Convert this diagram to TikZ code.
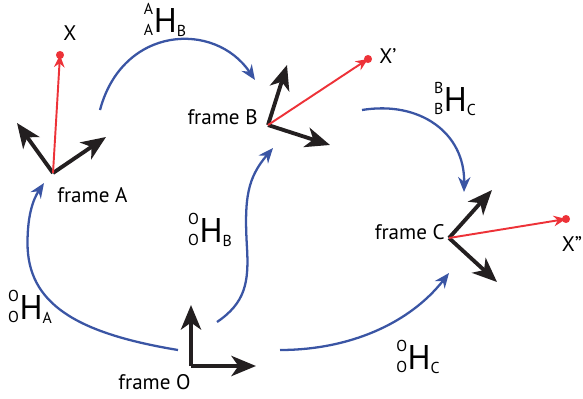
\documentclass[tikz,border=0pt]{standalone}
\usepackage{fontspec}
\setmainfont{PT Sans}
\usetikzlibrary{arrows.meta}
\definecolor{hblue}{RGB}{58,85,164}
\definecolor{xred}{RGB}{237,50,56}
\definecolor{axblack}{RGB}{35,31,32}
\newcommand{\hmat}[3]{\raisebox{-1.7pt}{\fontsize{9}{12}\selectfont\begin{tabular}[b]{@{}c@{}}#1\\#2\end{tabular}}\kern0.3pt{\fontsize{19.5}{19}\selectfont H}\raisebox{-2.3pt}{\fontsize{9}{10}\selectfont #3}}

\begin{document}
\begin{tikzpicture}[>=Stealth,
  axis/.style={draw=axblack,line width=2.2pt,-{Stealth[length=14pt,width=11.5pt,inset=4pt]}},
  pnt/.style={draw=xred,line width=1.1pt,-{Stealth[length=7pt,width=6pt]}},
  hmap/.style={draw=hblue,line width=1.3pt,-{Stealth[length=8.5pt,width=7pt]}},
  lbl/.style={font=\fontsize{12}{14}\selectfont,inner sep=0pt}]
\useasboundingbox (0,0) rectangle (11.66,7.96);
\coordinate (A) at (1.06,4.5);
\coordinate (A1) at (0.34,5.5);
\coordinate (A2) at (2.12,5.22);
\coordinate (Xa) at (1.2,6.86);
\coordinate (B) at (5.36,5.46);
\coordinate (B1) at (5.74,6.66);
\coordinate (B2) at (6.6,5.06);
\coordinate (Xb) at (7.36,6.78);
\coordinate (C) at (8.98,3.2);
\coordinate (C1) at (9.84,4.16);
\coordinate (C2) at (9.94,2.32);
\coordinate (Xc) at (11.32,3.58);
\coordinate (O) at (3.82,0.64);
\coordinate (O1) at (3.82,1.86);
\coordinate (O2) at (5.12,0.64);
\draw[axis] (A) -- (A1);
\draw[axis] (A) -- (A2);
\draw[axis] (B) -- (B1);
\draw[axis] (B) -- (B2);
\draw[axis] (C) -- (C1);
\draw[axis] (C) -- (C2);
\draw[axis] (O1|-O) -- (O1);
\draw[axis] (O) -- (O2);
\draw[draw=axblack,line width=2.2pt,line cap=rect] (O1|-O) -- (O);
\draw[pnt] (A) -- (Xa);
\draw[pnt] (B) -- (Xb);
\draw[pnt] (C) -- (Xc);
\fill[xred] (Xa) circle (2.3pt) (Xb) circle (2.3pt) (Xc) circle (2.3pt);
\node[lbl] (xa) at (1.4,7.3) {X};
\node[lbl] (xb) at (7.76,6.84) {X’};
\node[lbl] (xc) at (11.44,3.08) {X”};
\node[lbl,anchor=west] (fa) at (1.14,4.06) {frame A};
\node[lbl,anchor=east] (fb) at (5.16,5.62) {frame B};
\node[lbl,anchor=east] (fc) at (8.9,3.32) {frame C};
\node[lbl] (fo) at (3.09,0.32) {frame O};
\coordinate (oa0) at (3.56,0.96);
\coordinate (oa1) at (0.88,4.3);
\coordinate (ab0) at (2.0,5.76);
\coordinate (ab1) at (5.1,6.36);
\coordinate (ob0) at (4.34,1.52);
\coordinate (ob1) at (5.46,5.0);
\coordinate (bc0) at (7.24,5.76);
\coordinate (bc1) at (9.28,4.12);
\coordinate (oc0) at (5.6,0.96);
\coordinate (oc1) at (8.98,2.5);
\draw[hmap] (oa0) .. controls (1.5,1.3) and (0.55,1.9) .. (0.55,3.1) .. controls (0.55,3.7) and (0.68,4.0) .. (oa1);
\draw[hmap] (ab0) .. controls (2.45,7.45) and (4.3,7.55) .. (ab1);
\draw[hmap] (ob0) .. controls (4.9,1.9) and (4.98,2.3) .. (4.94,3.0) .. controls (4.88,4.0) and (4.95,4.4) .. (ob1);
\draw[hmap] (bc0) .. controls (8.4,5.95) and (9.3,5.3) .. (bc1);
\draw[hmap] (oc0) .. controls (7.0,0.96) and (8.2,1.5) .. (oc1);
\node (hab) at (3.3,7.54) {\hmat{A}{A}{B}};
\node (hbc) at (9.1,5.96) {\hmat{B}{B}{C}};
\node (hob) at (4.2,3.34) {\hmat{O}{O}{B}};
\node (hoa) at (0.6,1.8) {\hmat{O}{O}{A}};
\node (hoc) at (8.36,0.8) {\hmat{O}{O}{C}};
\end{tikzpicture}
\end{document}
